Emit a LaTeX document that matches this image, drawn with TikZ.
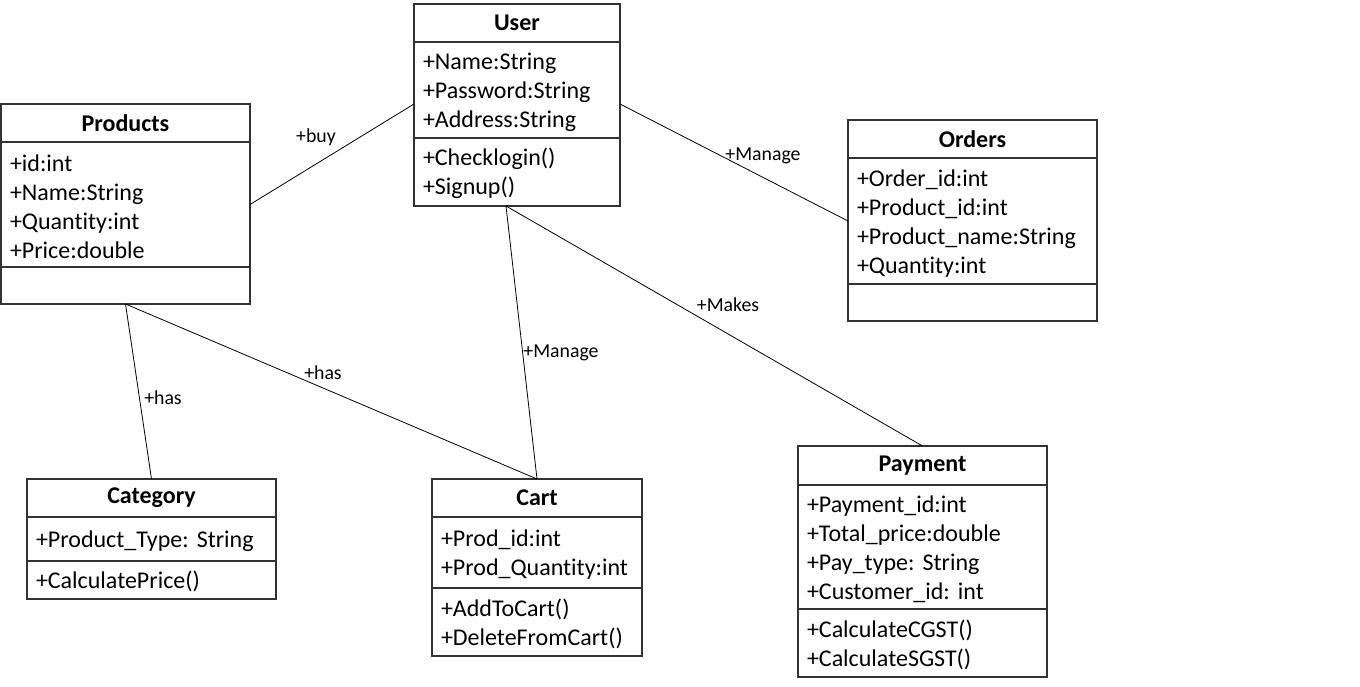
\documentclass[tikz,border=0pt]{standalone}
\usepackage{fontspec}
\setmainfont{Carlito}[Ligatures=NoCommon]
\usetikzlibrary{positioning}
\frenchspacing

\begin{document}
\begin{tikzpicture}[x=1pt,y=-1pt,
    box/.style={draw=black!80,line width=1.2pt,inner xsep=9pt,inner ysep=0pt,outer sep=0pt,
        text width={#1-18pt},font=\fontsize{24}{29}\selectfont},
    title/.style={box=#1,align=center,minimum height=38pt,
        font=\fontsize{24}{29}\selectfont\bfseries},
    part/.style={box=#1,align=left,execute at begin node={\rule{0pt}{21pt}}},
    lbl/.style={font=\fontsize{19.8}{23}\selectfont,inner sep=1pt},
    assoc/.style={draw,line width=0.8pt}]
    \useasboundingbox[fill=white](0,0)rectangle(1360,686);
    % User
    \node[title=206pt,anchor=north west](user)at(414,4){User};
    \node[part=206pt,minimum height=96pt,below=0pt of user](user-attr){+Name:String\\+Password:String\\+Address:String};
    \node[part=206pt,minimum height=68pt,below=0pt of user-attr](user-ops){+Checklogin()\\+Signup()};
    % Products
    \node[title=249pt,anchor=north west](prod)at(1,104){Products};
    \node[part=249pt,minimum height=125pt,below=0pt of prod](prod-attr){+id:int\\+Name:String\\+Quantity:int\\+Price:double};
    \node[part=249pt,minimum height=37pt,below=0pt of prod-attr](prod-ops){};
    % Orders
    \node[title=249pt,anchor=north west](ord)at(848,120){Orders};
    \node[part=249pt,minimum height=126pt,below=0pt of ord](ord-attr){+Order\_id:int\\+Product\_id:int\\+Product\_name:String\\+Quantity:int};
    \node[part=249pt,minimum height=37pt,below=0pt of ord-attr](ord-ops){};
    % Category
    \node[title=249pt,anchor=north west](cat)at(27,479){Category};
    \node[part=249pt,minimum height=44pt,below=0pt of cat](cat-attr){+Product\_Type: String};
    \node[part=249pt,minimum height=38pt,below=0pt of cat-attr](cat-ops){+CalculatePrice()};
    % Cart
    \node[title=210pt,anchor=north west](cart)at(432,479){Cart};
    \node[part=210pt,minimum height=71pt,below=0pt of cart](cart-attr){+Prod\_id:int\\+Prod\_Quantity:int};
    \node[part=210pt,minimum height=68pt,below=0pt of cart-attr](cart-ops){+AddToCart()\\+DeleteFromCart()};
    % Payment
    \node[title=249pt,anchor=north west,minimum height=39pt](pay)at(798,446){Payment};
    \node[part=249pt,minimum height=124pt,below=0pt of pay](pay-attr){+Payment\_id:int\\+Total\_price:double\\+Pay\_type: String\\+Customer\_id: int};
    \node[part=249pt,minimum height=68pt,below=0pt of pay-attr](pay-ops){+CalculateCGST()\\+CalculateSGST()};
    % associations
    \draw[assoc](prod-attr.east)--([yshift=-14pt]user-attr.west);
    \draw[assoc]([yshift=-14pt]user-attr.east)--(ord-attr.west);
    \draw[assoc]([xshift=-11pt]user-ops.south)--(cart.north);
    \draw[assoc]([xshift=-11pt]user-ops.south)--(pay.north);
    \draw[assoc](prod-ops.south)--(cat.north);
    \draw[assoc](prod-ops.south)--(cart.north);
    % labels
    \node[lbl](buy)at(316,137){+buy};
    \node[lbl](manage-ord)at(763,156){+Manage};
    \node[lbl](manage-cart)at(561,353){+Manage};
    \node[lbl](makes)at(728,305){+Makes};
    \node[lbl](has-cat)at(163,398){+has};
    \node[lbl](has-cart)at(323,373){+has};
\end{tikzpicture}
\end{document}
